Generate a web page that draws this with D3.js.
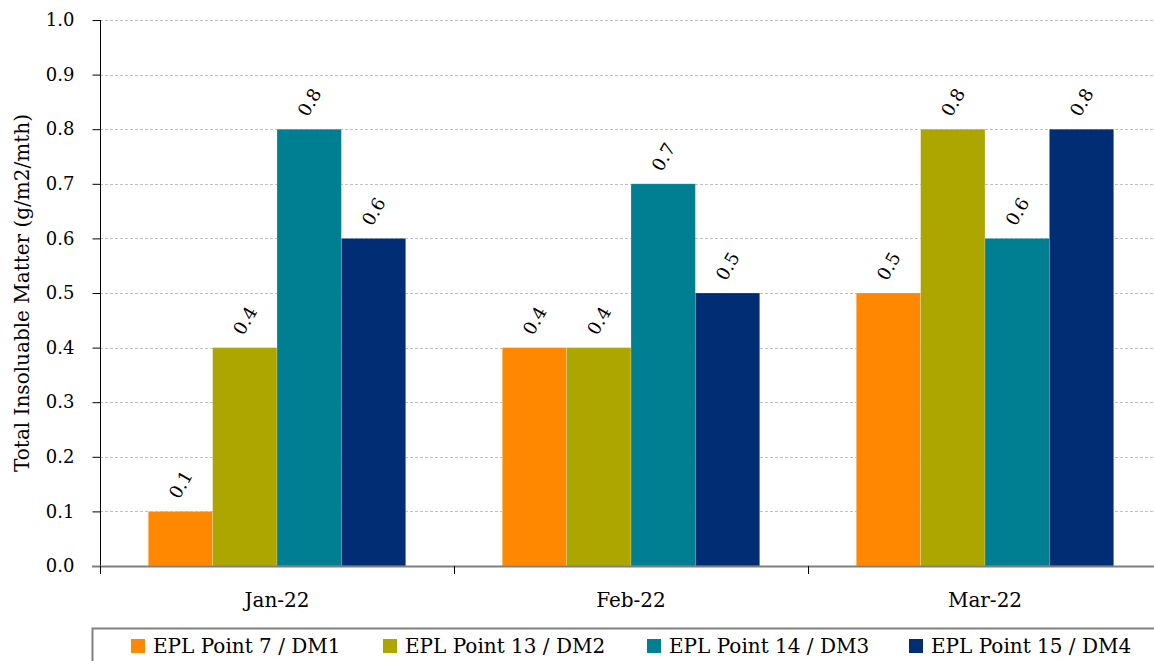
<!DOCTYPE html>
<html>
<head>
<meta charset="utf-8">
<script src="https://cdn.jsdelivr.net/npm/d3@7"></script>
<style>
  html, body { margin: 0; padding: 0; background: #fff; }
  svg { display: block; font-family: "DejaVu Serif", serif; }
</style>
</head>
<body>
<svg id="chart" width="1154" height="661"></svg>
<script>
const categories = ["Jan-22", "Feb-22", "Mar-22"];
const seriesNames = ["EPL Point 7 / DM1", "EPL Point 13 / DM2", "EPL Point 14 / DM3", "EPL Point 15 / DM4"];
const dm1 = [0.1, 0.4, 0.5];
const dm2 = [0.4, 0.4, 0.8];
const dm3 = [0.8, 0.7, 0.6];
const dm4 = [0.6, 0.5, 0.8];
const colors = ["#FF8800", "#ADA500", "#007F93", "#002D73"];
const yTicks = [0.0, 0.1, 0.2, 0.3, 0.4, 0.5, 0.6, 0.7, 0.8, 0.9, 1.0];
const yTitle = "Total Insoluable Matter (g/m2/mth)";

const seriesValues = [dm1, dm2, dm3, dm4];
const svg = d3.select("#chart");
const mLeft = 100, mRight = 1162, mTop = 20, mBottom = 566;
const FONT = '"DejaVu Serif", serif';

const x0 = d3.scaleBand().domain(categories).range([mLeft, mRight]).padding(0);
const x1 = d3.scaleBand().domain(seriesNames).range([0, x0.bandwidth()]).paddingInner(0).paddingOuter(0.75);
const y = d3.scaleLinear().domain([0, 1]).range([mBottom, mTop]);

// gridlines
svg.append("g").selectAll("line").data(yTicks.filter(d => d > 0)).join("line")
  .attr("x1", mLeft).attr("x2", 1154)
  .attr("y1", d => Math.round(y(d)) + 0.5).attr("y2", d => Math.round(y(d)) + 0.5)
  .attr("stroke", "#c0c0c0").attr("stroke-width", 1).attr("stroke-dasharray", "3,2");

// bars
const rows = [];
categories.forEach((c, i) => seriesNames.forEach((s, j) => rows.push({c, s, j, v: seriesValues[j][i]})));
svg.append("g").selectAll("rect").data(rows).join("rect")
  .attr("x", d => x0(d.c) + x1(d.s))
  .attr("y", d => y(d.v))
  .attr("width", x1.bandwidth())
  .attr("height", d => y(0) - y(d.v))
  .attr("fill", d => colors[d.j])
  .attr("stroke", "rgba(255,255,255,0.35)").attr("stroke-width", 0.6);

// value labels
svg.append("g").selectAll("text").data(rows).join("text")
  .attr("transform", d => `translate(${x0(d.c) + x1(d.s) + x1.bandwidth() / 2},${y(d.v) - 27}) rotate(-60)`)
  .attr("text-anchor", "middle").attr("dominant-baseline", "central")
  .attr("font-family", FONT).attr("font-size", 18).attr("fill", "#000")
  .text(d => d.v.toFixed(1));

// y axis
const yAxis = d3.axisLeft(y).tickValues(yTicks).tickFormat(d3.format(".1f")).tickSize(8).tickPadding(18);
const gy = svg.append("g").attr("transform", `translate(${mLeft + 0.5},0)`).call(yAxis);
gy.select(".domain").attr("stroke", "#000").attr("d", `M0,${mTop}V${mBottom}`);
gy.selectAll(".tick line").attr("stroke", "#000");
gy.selectAll(".tick text").attr("font-size", 18).attr("font-family", FONT).attr("fill", "#000");

// x axis
const gx = svg.append("g");
gx.append("line").attr("x1", 92).attr("x2", 1154).attr("y1", mBottom + 0.5).attr("y2", mBottom + 0.5)
  .attr("stroke", "#7f7f7f").attr("stroke-width", 2);
const boundaries = categories.map(c => x0(c)).concat([mRight]);
gx.selectAll("line.tk").data(boundaries).join("line").attr("class", "tk")
  .attr("x1", d => Math.round(d) + 0.5).attr("x2", d => Math.round(d) + 0.5)
  .attr("y1", mBottom).attr("y2", mBottom + 8).attr("stroke", "#000");
gx.selectAll("text").data(categories).join("text")
  .attr("x", d => x0(d) + x0.bandwidth() / 2).attr("y", 607)
  .attr("text-anchor", "middle").attr("font-family", FONT).attr("font-size", 20).attr("fill", "#000")
  .text(d => d);

// y title
svg.append("text").attr("transform", `translate(29,${(mTop + mBottom) / 2}) rotate(-90)`)
  .attr("text-anchor", "middle").attr("font-family", FONT).attr("font-size", 20).attr("fill", "#000").text(yTitle);

// legend
svg.append("path").attr("d", "M92.5,661V628.5H1154").attr("fill", "none").attr("stroke", "#808080").attr("stroke-width", 2);
const legX = [131, 383, 647, 909];
const lg = svg.append("g").selectAll("g").data(seriesNames).join("g")
  .attr("transform", (d, i) => `translate(${legX[i]},0)`);
lg.append("rect").attr("x", 0).attr("y", 639).attr("width", 14).attr("height", 14).attr("fill", (d, i) => colors[i]);
lg.append("text").attr("x", 22).attr("y", 653).attr("font-family", FONT).attr("font-size", 20).attr("fill", "#000").text(d => d);
</script>
</body>
</html>
